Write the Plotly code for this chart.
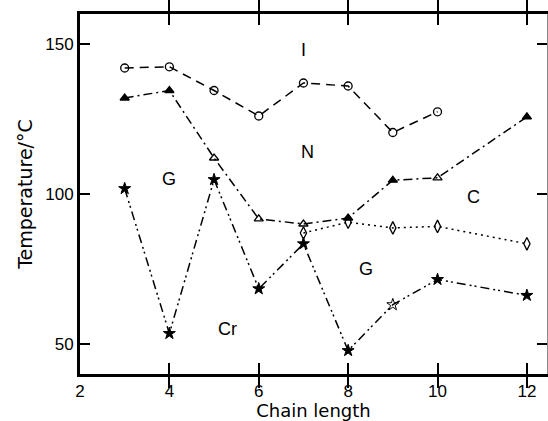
import plotly.graph_objects as go

# Data
x_iso = [3, 4, 5, 6, 7, 8, 9, 10]
t_iso = [142, 142.4, 134.5, 126, 137, 136, 120.5, 127.4]

x_tri = [3, 4, 5, 6, 7, 8, 9, 10, 12]
t_tri = [132, 134.5, 112, 91.7, 90, 92, 104.6, 105.4, 125.7]
tri_filled = [True, True, False, False, False, True, True, False, True]

x_dia = [7, 8, 9, 10, 12]
t_dia = [87, 90.6, 88.7, 89.2, 83.4]

x_star = [3, 4, 5, 6, 7, 8, 9, 10, 12]
t_star = [101.8, 53.5, 104.8, 68.4, 83.4, 47.8, 63.1, 71.5, 66.2]
star_filled = [True, True, True, True, True, True, False, True, True]

phase_labels = ["I", "N", "G", "C", "G", "Cr"]
phase_x = [7.0, 7.1, 4.0, 10.8, 8.4, 5.3]
phase_y = [148, 114, 105, 99, 75, 55]

x_ticks = [2, 4, 6, 8, 10, 12]
y_ticks = [50, 100, 150]

fig = go.Figure()
fig.add_trace(go.Scatter(
    x=x_iso, y=t_iso, mode="lines+markers",
    line=dict(color="black", width=1.5, dash="9px,6px"),
    marker=dict(symbol="circle-open", size=8, color="black", line=dict(width=1.3)),
))
fig.add_trace(go.Scatter(
    x=x_tri, y=t_tri, mode="lines+markers",
    line=dict(color="black", width=1.5, dash="9px,4px,2px,4px"),
    marker=dict(symbol=["triangle-up" if f else "triangle-up-open" for f in tri_filled],
                size=8, color="black", line=dict(width=1.3, color="black")),
))
fig.add_trace(go.Scatter(
    x=x_dia, y=t_dia, mode="lines+markers",
    line=dict(color="black", width=1.5, dash="2px,4px"),
    marker=dict(symbol="diamond-tall-open", size=9, color="black", line=dict(width=1.3)),
))
fig.add_trace(go.Scatter(
    x=x_star, y=t_star, mode="lines+markers",
    line=dict(color="black", width=1.5, dash="9px,4px,2px,3px,2px,4px"),
    marker=dict(symbol=["star" if f else "star-open" for f in star_filled],
                size=9, color="black", line=dict(width=1, color="black")),
))
# invisible trace for the right-hand axis
fig.add_trace(go.Scatter(x=[None], y=[None], yaxis="y2", showlegend=False))

for lab, px, py in zip(phase_labels, phase_x, phase_y):
    fig.add_annotation(x=px, y=py, text=lab, showarrow=False,
                       font=dict(family="Liberation Sans", size=18, color="black"))

fig.update_layout(
    width=548, height=421,
    margin=dict(l=80, r=1, t=14, b=47),
    paper_bgcolor="white", plot_bgcolor="white",
    showlegend=False,
    font=dict(family="Liberation Sans", size=17, color="black"),
    xaxis=dict(range=[2, 12.45], tickvals=x_ticks, ticks="inside", ticklen=11,
               tickwidth=2, tickcolor="black", showline=True, linewidth=3,
               linecolor="black", mirror="allticks", showgrid=False, zeroline=False,
               automargin=False,
               title=dict(text="Chain length", standoff=2,
                          font=dict(family="DejaVu Sans", size=18))),
    yaxis=dict(range=[40, 160], tickvals=y_ticks, ticks="inside", ticklen=10,
               tickwidth=2, tickcolor="black", showline=True, linewidth=3,
               linecolor="black", showgrid=False, zeroline=False,
               automargin=False,
               title=dict(text="Temperature/°C", standoff=8,
                          font=dict(family="DejaVu Sans", size=19))),
    yaxis2=dict(range=[40, 160], tickvals=y_ticks, overlaying="y", side="right",
                ticks="inside", ticklen=10, tickwidth=1.5, tickcolor="black",
                showticklabels=False, showline=True, linewidth=1,
                linecolor="#888", showgrid=False, zeroline=False, automargin=False),
)

fig.write_html("out.html", config={"displayModeBar": False},
               post_script="document.body.style.margin='0px';")
